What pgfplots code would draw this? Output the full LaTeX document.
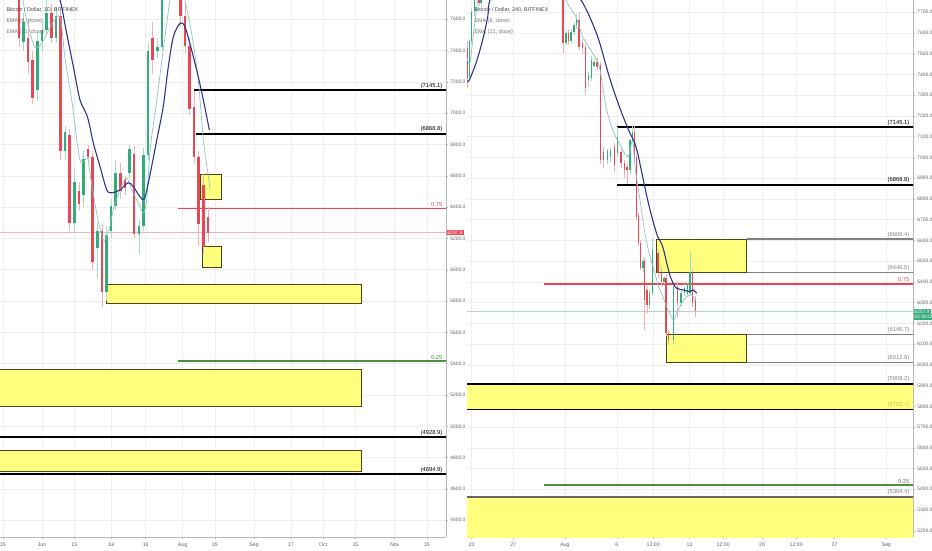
\documentclass[border=0pt]{standalone}
\usepackage{fontspec}
\setmainfont{Liberation Sans}
\usepackage{pgfplots}
\usepackage{pgfplotstable}
\pgfplotsset{compat=1.18}

\definecolor{cred}{RGB}{232,72,85}
\definecolor{cgreen}{RGB}{50,172,122}
\definecolor{wred}{RGB}{242,175,180}
\definecolor{wgreen}{RGB}{165,218,195}
\definecolor{ema21}{RGB}{48,52,140}
\definecolor{ema8}{RGB}{140,195,195}
\definecolor{zone}{RGB}{255,255,125}
\definecolor{zoneedge}{RGB}{70,70,30}
\definecolor{fibgreen}{RGB}{80,140,70}
\definecolor{tickgray}{RGB}{95,95,95}
\definecolor{lvl}{RGB}{130,130,130}
\newcommand\lab{\fontsize{5.8}{7}\selectfont}
\newcommand\leg{\fontsize{5.4}{6.5}\selectfont}

% left panel: days from 1 Jun 2018; d open high low close
\pgfplotstableread{
d o h l c
-16 8550 8600 8400 8450
-12 8400 8450 8000 8050
-10 8050 8100 7420 7480
-6 7480 7600 7250 7330
-4 7340 7400 7060 7100
4 7640 7700 7450 7480
8 7620 7660 6700 6760
12 6860 6900 6250 6300
16 6500 6560 6380 6420
20 6770 6800 6680 6720
22 6720 6760 6000 6050
26 6250 6290 5760 5860
34 6620 6680 6450 6500
36 6580 6600 6480 6520
40 6740 6790 6200 6230
48 7480 7580 7250 7340
56 8250 8300 8050 8100
60 8200 8250 7550 7620
62 7620 7700 7380 7430
64 7430 7480 6990 7030
66 7040 7145 6680 6720
68 6720 6760 6150 6290
70 6540 6610 6100 6150
72 6340 6400 6180 6238
}\leftdown
\pgfplotstableread{
d o h l c
-18 8500 8700 8450 8600
-14 8450 8500 8300 8400
-8 7455 7640 7400 7580
-2 7150 7520 7080 7460
0 7460 7600 7400 7530
2 7530 7720 7500 7640
6 7480 7680 7450 7620
10 6760 6920 6700 6880
14 6300 6650 6250 6560
18 6480 6760 6400 6710
24 6140 6300 5950 6250
28 5860 6280 5800 6220
30 6250 6450 6200 6410
32 6410 6700 6380 6620
38 6620 6800 6580 6770
42 6230 6320 6100 6280
44 6280 6780 6250 6730
46 6730 7450 6700 7400
50 7400 7480 7350 7420
52 7420 8300 7400 8200
54 8200 8450 8100 8250
58 8100 8250 8000 8200
}\leftup

% right panel: days from 1 Aug 2018 (4h candles)
\pgfplotstableread{
d o h l c
-9.4 7527 7560 7335 7383
-8.3 7850 7870 7730 7745
-0.19 7800 7850 7503 7553
0.35 7600 7620 7540 7560
1.35 7663 7700 7520 7533
1.7 7550 7570 7500 7527
2.0 7533 7545 7300 7335
3.1 7460 7480 7420 7436
3.4 7446 7460 6970 6988
3.7 7026 7050 6950 6988
4.75 7050 7070 6930 6963
5.4 7026 7040 6950 6973
5.75 6973 6990 6900 6939
6.0 6955 6970 6870 6939
6.7 7122 7150 6980 6997
6.9 7002 7010 6700 6713
7.1 6722 6730 6575 6587
7.3 6587 6600 6455 6467
7.65 6500 6520 6168 6312
7.9 6360 6380 6250 6288
8.95 6540 6560 6420 6443
9.3 6447 6470 6380 6400
9.75 6420 6440 6140 6153
10.0 6153 6170 6095 6120
10.85 6375 6400 6230 6300
12.3 6447 6460 6280 6300
12.6 6312 6330 6230 6258
}\rightdown
\pgfplotstableread{
d o h l c
-9.2 7390 7570 7370 7560
-9.0 7560 7720 7540 7700
-8.75 7700 7860 7680 7840
-8.1 7745 7950 7720 7930
0.1 7553 7610 7540 7600
0.6 7560 7620 7550 7605
0.85 7605 7650 7590 7640
1.1 7640 7690 7620 7663
2.25 7373 7410 7340 7398
2.55 7383 7490 7370 7470
2.8 7440 7475 7430 7460
4.1 6990 7040 6970 7030
4.4 7000 7050 6980 7036
5.05 7021 7145 7000 7098
6.25 6939 7090 6920 7084
6.5 7084 7150 7070 7122
7.5 6467 6510 6450 6500
8.15 6288 6360 6270 6346
8.45 6346 6610 6330 6554
9.55 6400 6430 6390 6420
10.45 6121 6400 6100 6375
11.2 6300 6360 6280 6346
11.5 6346 6390 6330 6370
11.8 6340 6400 6330 6390
12.05 6346 6550 6330 6447
}\rightup

\pgfplotsset{
  candle/.style 2 args={draw=none, mark=none, forget plot,
    error bars/.cd, y dir=both, y explicit, error mark=none,
    error bar style={draw=#1, line width=#2}},
  panel/.style={
    scale only axis, width=446pt, height=537pt, anchor=south west,
    clip mode=individual,
    axis x line*=bottom, axis y line*=right,
    axis line style={-, draw=gray!55},
    tick style={draw=gray!60, line width=0.5pt},
    major tick length=2pt, tick align=outside,
    grid=major, major grid style={draw=gray!13, line width=0.6pt},
    yticklabel={\pgfmathprintnumber[fixed,fixed zerofill,precision=1,1000 sep={},assume math mode=true]{\tick}},
    yticklabel style={font=\fontsize{4.9}{5.5}\selectfont, text=tickgray, xshift=-1.2pt},
    xticklabel style={font=\fontsize{5.2}{6}\selectfont, text=tickgray},
  },
}

\begin{document}
\begin{tikzpicture}
\useasboundingbox (0,0) rectangle (932pt,550pt);

% ---------------- left: daily ----------------
\begin{axis}[panel, at={(0pt,13pt)},
  xmin=-18.22, xmax=175.27, ymin=4293, ymax=7723,
  ytick={4400,4600,...,7600},
  xtick={-17,0,14,30,45,61,75,92,108,122,136,153,167},
  xticklabels={15,Jun,15,Jul,16,Aug,15,Sep,17,Oct,15,Nov,15}]

\addplot[draw=zoneedge, fill=zone, line width=0.8pt] coordinates {(-25,5364.4)(138.7,5364.4)(138.7,5125)(-25,5125)} -- cycle;
\addplot[draw=zoneedge, fill=zone, line width=0.8pt] coordinates {(-25,4845)(138.7,4845)(138.7,4712)(-25,4712)} -- cycle;
\addplot[draw=zoneedge, fill=zone, line width=0.8pt] coordinates {(27.8,5908.2)(138.7,5908.2)(138.7,5783.7)(27.8,5783.7)} -- cycle;
\addplot[draw=zoneedge, fill=zone, line width=0.8pt] coordinates {(68.85,6606.4)(77.8,6606.4)(77.8,6446.5)(68.85,6446.5)} -- cycle;
\addplot[draw=zoneedge, fill=zone, line width=0.8pt] coordinates {(69.5,6146.7)(77.8,6146.7)(77.8,6012.8)(69.5,6012.8)} -- cycle;

\addplot[black, line width=2pt] coordinates {(65.9,7145.1)(180,7145.1)};
\addplot[black, line width=2pt] coordinates {(66.8,6868.8)(180,6868.8)};
\addplot[cred, line width=1.5pt] coordinates {(59,6391)(180,6391)};
\addplot[fibgreen, line width=1.3pt] coordinates {(59,5418)(180,5418)};
\addplot[black, line width=2pt] coordinates {(-25,4928.9)(180,4928.9)};
\addplot[black, line width=2pt] coordinates {(-25,4694.9)(180,4694.9)};
\addplot[wred, line width=0.8pt] coordinates {(-25,6237.9)(180,6237.9)};

\addplot[candle={wred}{0.6pt}] table[x=d, y expr={(\thisrow{h}+\thisrow{l})/2}, y error expr={(\thisrow{h}-\thisrow{l})/2}] {\leftdown};
\addplot[candle={wgreen}{0.6pt}] table[x=d, y expr={(\thisrow{h}+\thisrow{l})/2}, y error expr={(\thisrow{h}-\thisrow{l})/2}] {\leftup};
\addplot[candle={cred}{2.6pt}] table[x=d, y expr={(\thisrow{o}+\thisrow{c})/2}, y error expr={abs(\thisrow{o}-\thisrow{c})/2}] {\leftdown};
\addplot[candle={cgreen}{2.6pt}] table[x=d, y expr={(\thisrow{o}+\thisrow{c})/2}, y error expr={abs(\thisrow{o}-\thisrow{c})/2}] {\leftup};

\addplot[ema8, line width=0.7pt, smooth] coordinates {
(-18.2,8500) (-12,8200) (-8,7700) (-6,7560) (-3,7420) (0,7450) (4,7560) (7.8,7616)
(10,7350) (12.9,7084) (16.5,6701) (19.7,6714) (20.8,6618) (23.7,6363) (26.6,6190)
(28.8,6235) (30.9,6382) (33.8,6510) (36.7,6586) (38.9,6510) (41.8,6427) (43.9,6363)
(45.4,6446) (46.9,6765) (49.8,7084) (52.6,7404) (55.5,7723) (58,7950) (60.5,7850)
(62,7723) (64.9,7512) (67.8,7212) (70,6829) (72.2,6595) (72.9,6510)};
\addplot[ema21, line width=1.1pt, smooth] coordinates {
(-18.2,8350) (-12,8200) (-6,8000) (0,7850) (5,7760) (7.8,7723) (10.7,7510) (13.6,7297)
(16.5,7084) (19.7,6978) (22.3,6808) (25.2,6658) (28.1,6510) (30.2,6492) (33.8,6510)
(37.4,6556) (39.6,6531) (42.5,6467) (44.3,6450) (46.1,6552) (49.8,6829) (52.6,7042)
(54.8,7297) (57,7489) (59.9,7574) (62,7553) (64.9,7404) (67.8,7233) (70,7084) (72.6,6893)};

\node[anchor=south east, font=\lab, inner sep=0.5pt, yshift=1pt] at (axis cs:174,7145.1) {(7145.1)};
\node[anchor=south east, font=\lab, inner sep=0.5pt, yshift=1pt] at (axis cs:174,6868.8) {(6868.8)};
\node[anchor=south east, font=\lab, inner sep=0.5pt, yshift=1pt, text=cred] at (axis cs:174,6391) {0.75};
\node[anchor=south east, font=\lab, inner sep=0.5pt, yshift=1pt, text=fibgreen] at (axis cs:174,5418) {0.25};
\node[anchor=south east, font=\lab, inner sep=0.5pt, yshift=1pt] at (axis cs:174,4928.9) {(4928.9)};
\node[anchor=south east, font=\lab, inner sep=0.5pt, yshift=1pt] at (axis cs:174,4694.9) {(4694.9)};
\node[anchor=west, fill=cred, text=white, font=\fontsize{4.9}{5.5}\selectfont, inner sep=1pt, xshift=0.5pt] at (axis cs:175.27,6237.9) {6237.9};

\node[anchor=west, font=\leg, text=black!75, xshift=3pt, yshift=-10pt] at (rel axis cs:0,1) {Bitcoin / Dollar, 1D, BITFINEX};
\node[anchor=west, font=\leg, text=black!55, xshift=3pt, yshift=-21pt] at (rel axis cs:0,1) {EMA (8, close)};
\node[anchor=west, font=\leg, text=black!55, xshift=3pt, yshift=-32pt] at (rel axis cs:0,1) {EMA (21, close)};
\end{axis}

% ---------------- right: 4h ----------------
\begin{axis}[panel, at={(467pt,13pt)},
  xmin=-9.45, xmax=33.56, ymin=5170, ymax=7759,
  ytick={5200,5300,...,7700},
  xtick={-9,-5,0,5,8.5,12,15.25,19,22.3,26,31},
  xticklabels={23,27,Aug,6,12:00,13,12:00,20,12:00,27,Sep}]

\addplot[draw=none, fill=zone] coordinates {(-12,5358)(36,5358)(36,5100)(-12,5100)} -- cycle;
\addplot[draw=none, fill=zone] coordinates {(-12,5908.2)(36,5908.2)(36,5783.7)(-12,5783.7)} -- cycle;
\addplot[black, line width=1.4pt] coordinates {(-12,5908.2)(36,5908.2)};
\addplot[black, line width=1.4pt] coordinates {(-12,5783.7)(36,5783.7)};
\addplot[gray!80!black, line width=1.7pt] coordinates {(-12,5364.4)(36,5364.4)};

\addplot[draw=zoneedge, fill=zone, line width=0.8pt] coordinates {(8.84,6606.4)(17.52,6606.4)(17.52,6446.5)(8.84,6446.5)} -- cycle;
\addplot[draw=zoneedge, fill=zone, line width=0.8pt] coordinates {(9.81,6146.7)(17.52,6146.7)(17.52,6012.8)(9.81,6012.8)} -- cycle;
\addplot[lvl, line width=1.2pt] coordinates {(17.52,6606.4)(36,6606.4)};
\addplot[lvl, line width=1.2pt] coordinates {(17.52,6446.5)(36,6446.5)};
\addplot[lvl, line width=1.2pt] coordinates {(17.52,6146.7)(36,6146.7)};
\addplot[lvl, line width=1.2pt] coordinates {(17.52,6012.8)(36,6012.8)};

\addplot[black, line width=2pt] coordinates {(4.99,7145.1)(36,7145.1)};
\addplot[black, line width=2pt] coordinates {(4.99,6868.8)(36,6868.8)};
\addplot[cred, line width=1.6pt] coordinates {(-2.05,6391)(36,6391)};
\addplot[fibgreen, line width=1.3pt] coordinates {(-2.05,5420)(36,5420)};
\addplot[wgreen, line width=0.7pt] coordinates {(-12,6257.9)(36,6257.9)};

\addplot[candle={wred}{0.5pt}] table[x=d, y expr={(\thisrow{h}+\thisrow{l})/2}, y error expr={(\thisrow{h}-\thisrow{l})/2}] {\rightdown};
\addplot[candle={wgreen}{0.5pt}] table[x=d, y expr={(\thisrow{h}+\thisrow{l})/2}, y error expr={(\thisrow{h}-\thisrow{l})/2}] {\rightup};
\addplot[candle={cred}{1.5pt}] table[x=d, y expr={(\thisrow{o}+\thisrow{c})/2}, y error expr={abs(\thisrow{o}-\thisrow{c})/2}] {\rightdown};
\addplot[candle={cgreen}{1.5pt}] table[x=d, y expr={(\thisrow{o}+\thisrow{c})/2}, y error expr={abs(\thisrow{o}-\thisrow{c})/2}] {\rightup};

\addplot[ema8, line width=0.7pt, smooth] coordinates {
(-9.45,7480) (-9.2,7450) (-9,7520) (-8.7,7650) (-8.4,7759) (-8,7850) (-4,8100) (-1,7950)
(0.1,7759) (1.06,7677) (1.71,7582) (2.67,7502) (3.31,7437) (3.95,7245) (4.6,7132)
(5.24,7068) (6.05,7003) (6.53,7084) (6.75,6955) (7.23,6795) (7.71,6634) (8.2,6521)
(8.68,6441) (9,6377) (9.32,6345) (9.81,6280) (10.44,6216) (10.77,6248) (11.25,6297)
(11.74,6328) (12.22,6337) (12.54,6312)};
\addplot[ema21, line width=1.1pt, smooth] coordinates {
(-9.45,7365) (-9.23,7373) (-8.58,7455) (-7.94,7566) (-7.45,7679) (-7.23,7759) (-6,7850)
(-3,7900) (0,7850) (1.54,7759) (2.51,7663) (3.31,7558) (4.27,7389) (5.24,7245)
(6.2,7124) (6.68,7076) (7.01,7020) (7.49,6907) (7.97,6795) (8.46,6698) (8.94,6618)
(9.42,6570) (10.06,6441) (10.44,6393) (10.77,6369) (11.41,6361) (12.05,6353)
(12.37,6361) (12.7,6345)};

\node[anchor=south east, font=\lab, inner sep=0.5pt, yshift=1pt] at (axis cs:33.27,7145.1) {(7145.1)};
\node[anchor=south east, font=\lab, inner sep=0.5pt, yshift=1pt] at (axis cs:33.27,6868.8) {(6868.8)};
\node[anchor=south east, font=\lab, inner sep=0.5pt, yshift=1pt, text=lvl] at (axis cs:33.27,6606.4) {(6606.4)};
\node[anchor=south east, font=\lab, inner sep=0.5pt, yshift=1pt, text=lvl] at (axis cs:33.27,6446.5) {(6446.5)};
\node[anchor=south east, font=\lab, inner sep=0.5pt, yshift=1pt, text=cred] at (axis cs:33.27,6391) {0.75};
\node[anchor=south east, font=\lab, inner sep=0.5pt, yshift=1pt, text=lvl] at (axis cs:33.27,6146.7) {(6146.7)};
\node[anchor=south east, font=\lab, inner sep=0.5pt, yshift=1pt, text=lvl] at (axis cs:33.27,6012.8) {(6012.8)};
\node[anchor=south east, font=\lab, inner sep=0.5pt, yshift=1pt, text=lvl] at (axis cs:33.27,5908.2) {(5908.2)};
\node[anchor=south east, font=\lab, inner sep=0.5pt, yshift=1pt, text={rgb,255:red,200;green,200;blue,70}] at (axis cs:33.27,5783.7) {(5783.7)};
\node[anchor=south east, font=\lab, inner sep=0.5pt, yshift=1pt, text=fibgreen] at (axis cs:33.27,5420) {0.25};
\node[anchor=south east, font=\lab, inner sep=0.5pt, yshift=1pt, text=lvl] at (axis cs:33.27,5364.4) {(5364.4)};
\node[anchor=west, fill=cgreen, text=white, font=\fontsize{4.9}{5.5}\selectfont, inner sep=1pt, xshift=0.5pt] (pt) at (axis cs:33.56,6257.9) {6257.9};
\node[anchor=north west, fill=cgreen, text=white, font=\fontsize{4.9}{5.5}\selectfont, inner sep=1pt] at (pt.south west) {02:00:00};

\node[anchor=west, font=\leg, text=black!75, xshift=4pt, yshift=-10pt] at (rel axis cs:0,1) {Bitcoin / Dollar, 240, BITFINEX};
\node[anchor=west, font=\leg, text=black!55, xshift=4pt, yshift=-21pt] at (rel axis cs:0,1) {EMA (8, close)};
\node[anchor=west, font=\leg, text=black!55, xshift=4pt, yshift=-32pt] at (rel axis cs:0,1) {EMA (21, close)};
\end{axis}
\end{tikzpicture}
\end{document}
